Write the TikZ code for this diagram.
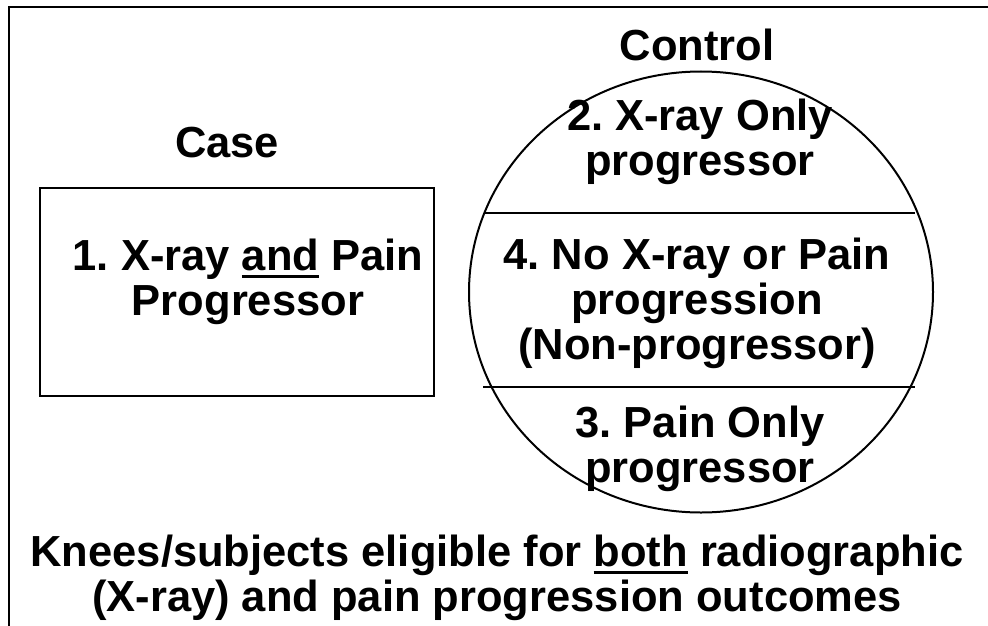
\documentclass[tikz,border=0pt]{standalone}
\usepackage{fontspec}
\setmainfont{Liberation Sans}
\frenchspacing
\usetikzlibrary{shapes.geometric}
\newcommand{\thickul}[1]{\mbox{\setbox0=\hbox{#1}\rlap{\rule[-8pt]{\wd0}{3.5pt}}\box0}}
\begin{document}
\begin{tikzpicture}[x=1pt,y=-1pt,
    lbl/.style={font=\fontsize{43.5}{45}\selectfont\bfseries, align=center, anchor=base, inner sep=0pt}]
    \useasboundingbox (0,0) rectangle (988,626);
    % outer frame, only top and left edges show
    \draw[line width=1.8pt] (9,626) -- (9,7) -- (988,7);

    % case
    \node[lbl] (case) at (227,157) {Case};
    \node[draw, line width=2pt, minimum width=394pt, minimum height=208pt, inner sep=0pt] (casebox) at (237,292) {};
    \node[lbl] (casetext) at (248,315) {1. X-ray \thickul{and} Pain\\Progressor};

    % control
    \node[lbl] (control) at (697,60) {Control};
    \node[draw, ellipse, line width=2pt, minimum width=464pt, minimum height=441pt, inner sep=0pt] (ctrl) at (701,292) {};
    \draw[line width=1.2pt] (485,213) -- (915,213);
    \draw[line width=1.2pt] (483,387) -- (915,387);
    \node[lbl] (xonly) at (700,175) {2. X-ray Only\\progressor};
    \node[lbl] (nonprog) at (697,359) {4. No X-ray or Pain\\progression\\(Non-progressor)};
    \node[lbl] (painonly) at (700,482) {3. Pain Only\\progressor};

    % bottom caption
    \node[lbl] (elig) at (497,611) {Knees/subjects eligible for \thickul{both} radiographic\\(X-ray) and pain progression outcomes};
\end{tikzpicture}
\end{document}
